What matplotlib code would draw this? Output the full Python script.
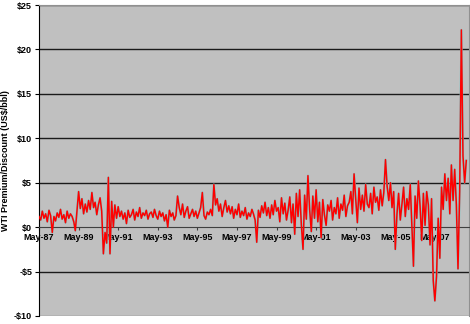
#!/usr/bin/env python3
"""WTI premium/discount, monthly readings off the chart"""

import datetime as dt
import pandas as pd
import matplotlib
matplotlib.use("Agg")
import matplotlib.pyplot as plt
import matplotlib.dates as mdates

# monthly values, US$/bbl, May-1987 .. Dec-2008
y1987 = [1.2, 0.8, 1.8, 1.0, 1.5, 0.6, 1.9, 1.3]
y1988 = [-0.6, 1.2, 0.7, 1.6, 1.1, 2.0, 0.9, 1.4, 0.5, 1.8, 1.0, 1.5]
y1989 = [1.2, 0.6, -0.4, 1.9, 4.0, 2.1, 3.2, 1.5, 2.6, 1.7, 3.0, 2.0]
y1990 = [3.9, 2.2, 2.8, 1.4, 2.5, 3.3, 1.8, -3.0, -0.6, -1.8, 5.6, -3.0]
y1991 = [2.9, 0.0, 2.5, 1.0, 2.3, 1.2, 1.8, 0.9, 1.6, 0.4, 1.9, 1.1]
y1992 = [1.4, 2.0, 0.8, 1.7, 1.2, 2.2, 1.0, 1.6, 1.3, 1.9, 0.9, 1.5]
y1993 = [1.7, 1.1, 2.0, 1.3, 0.9, 1.8, 1.2, 1.6, 0.7, 1.4, 0.0, 1.9]
y1994 = [1.2, 1.6, 0.8, 1.3, 3.5, 2.2, 1.4, 2.6, 1.1, 1.8, 2.3, 1.0]
y1995 = [1.5, 2.0, 1.2, 1.8, 1.0, 1.6, 2.2, 3.9, 1.3, 0.9, 1.7, 1.4]
y1996 = [2.0, 1.3, 4.8, 2.5, 3.2, 1.8, 2.6, 1.2, 2.2, 3.0, 1.7, 2.4]
y1997 = [1.5, 2.3, 1.0, 2.0, 1.4, 2.6, 1.1, 1.8, 1.3, 2.2, 0.9, 1.6]
y1998 = [1.2, 2.0, 1.5, 0.8, -1.7, 1.9, 1.1, 2.4, 1.6, 2.8, 1.3, 2.2]
y1999 = [1.0, 2.5, 1.4, 3.0, 1.8, 2.2, 0.6, 3.3, 1.5, 2.7, 0.8, 1.9]
y2000 = [3.4, 0.5, 2.6, -0.8, 3.8, 1.2, 4.2, 0.3, -2.5, 3.6, 0.9, 5.8]
y2001 = [2.0, -0.5, 3.5, 1.0, 4.2, 0.6, 2.8, -1.2, 3.1, 1.4, 0.2, 2.5]
y2002 = [1.8, 3.0, 0.8, 2.2, 1.5, 3.3, 1.0, 2.6, 1.9, 3.6, 1.2, 2.4]
y2003 = [2.8, 4.0, 1.5, 6.0, 3.2, 0.5, 4.4, 2.0, 3.6, 1.8, 4.8, 2.6]
y2004 = [2.2, 3.8, 1.5, 4.5, 2.8, 3.4, 1.9, 4.2, 2.4, 3.9, 7.6, 4.6]
y2005 = [3.0, 5.0, 2.2, 4.0, -2.5, 1.5, 3.8, 0.8, 2.6, 4.5, 1.2, 3.2]
y2006 = [2.0, 4.8, 0.5, -4.4, 3.5, 1.0, 5.2, 2.4, -1.5, 3.8, 0.2, 4.0]
y2007 = [2.5, -2.0, 3.2, -6.0, -8.3, -5.5, 1.0, -3.5, 4.5, 2.0, 6.0, 3.0]
y2008 = [5.5, 1.5, 7.0, 3.0, 6.5, 2.5, -4.7, 4.0, 22.2, 8.0, 5.0, 7.5]

premium = (y1987 + y1988 + y1989 + y1990 + y1991 + y1992 + y1993 + y1994
           + y1995 + y1996 + y1997 + y1998 + y1999 + y2000 + y2001 + y2002
           + y2003 + y2004 + y2005 + y2006 + y2007 + y2008)
dates = pd.date_range("1987-05-01", periods=len(premium), freq="MS")

tick_years = list(range(1987, 2008, 2))
y_ticks = [-10, -5, 0, 5, 10, 15, 20, 25]

plt.rcParams["font.family"] = ["Liberation Sans", "DejaVu Sans"]

fig = plt.figure(figsize=(4.70, 3.24), dpi=100)
ax = fig.add_axes([39 / 470, 1 - 316 / 324, 430 / 470, 311 / 324])
ax.set_facecolor("#c0c0c0")

# grid lines
for v in y_ticks[1:]:
    if v != 0:
        ax.axhline(v, color="#1a1a1a", lw=1.0, zorder=1)
ax.axhline(-10, color="#808080", lw=1.0, zorder=1)

# thin teal edge underneath, red on top
ax.plot(dates, premium, color="#70cccc", lw=1.5, zorder=2)
ax.plot(dates, premium, color="#ff0000", lw=1.1, zorder=3)

ax.set_ylim(-10, 25)
ax.set_xlim(dt.datetime(1987, 5, 1), dt.datetime(2009, 1, 20))
ax.set_yticks(y_ticks)
ax.set_yticklabels([f"-${-v}" if v < 0 else f"${v}" for v in y_ticks])

ax.set_xticks([dt.datetime(y, 5, 1) for y in tick_years])
ax.xaxis.set_major_formatter(mdates.DateFormatter("%b-%y"))

ax.spines["bottom"].set_position(("data", 0))
ax.spines["bottom"].set_color("#404040")
ax.spines["bottom"].set_zorder(2.5)
ax.spines["left"].set_color("black")
ax.spines["top"].set_color("#909090")
ax.spines["right"].set_color("#909090")
ax.tick_params(axis="x", length=2, width=0.8, color="#404040", pad=2,
               labelsize=6.5)
ax.tick_params(axis="y", length=3, width=0.8, pad=2, labelsize=6.5)

ax.set_ylabel("WTI Premium/Discount (US$/bbl)", fontsize=6.5,
              fontweight="bold", labelpad=3)

fig.canvas.draw()
for lab in ax.get_xticklabels() + ax.get_yticklabels():
    lab.set_fontweight("bold")
    lab.set_zorder(4)

fig.savefig("out.png", dpi=100)
